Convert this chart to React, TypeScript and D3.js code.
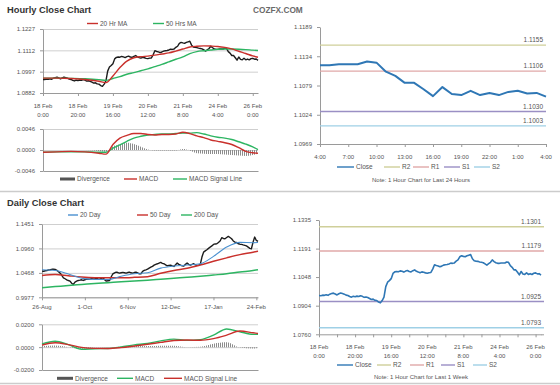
import React, { useRef, useEffect } from "react";
import * as d3 from "d3";

const FONT = "'Liberation Sans', Arial, sans-serif";
const GRID = "#cfcfcf";
const AXIS = "#9a9a9a";
const LABEL = "#555";
const RED = "#c9302c";
const GREEN = "#2db562";
const BLUE = "#4a90d0";
const CLOSE = "#2f77b5";
const LEVEL_COLORS = ["#cfcf9a", "#e0a8a8", "#9a8fc4", "#9fd0e6"];
const LEVEL_NAMES = ["R2", "R1", "S1", "S2"];

// ---- hourly closes, last 24h (24 Feb 4:00 -> 25 Feb 4:00)
const last24Close = [
    1.1117, 1.1117, 1.1119, 1.1119, 1.1119, 1.1124, 1.1122, 1.1105, 1.1097, 1.1084,
    1.1084, 1.1072, 1.1059, 1.1076, 1.1063, 1.1061, 1.1069, 1.1061, 1.1065, 1.1061,
    1.1067, 1.1069, 1.1064, 1.1065, 1.1058,
];
const last24Labels = ["4:00", "7:00", "10:00", "13:00", "16:00", "19:00", "22:00", "1:00", "4:00"];
const last24LabelIdx = [0, 3, 6, 9, 12, 15, 18, 21, 24];
const last24Ticks = [1.0969, 1.1024, 1.1079, 1.1134, 1.1189];
const last24Levels = [1.1155, 1.1106, 1.103, 1.1003];

// ---- hourly closes, last week
const hourlyClose = [
    1.0955, 1.0954, 1.0957, 1.0956, 1.0959, 1.0956, 1.0962, 1.0965, 1.0967, 1.0963,
    1.0958, 1.0964, 1.0968, 1.0965, 1.0962, 1.0957, 1.0955, 1.095, 1.0947, 1.0951,
    1.0949, 1.0952, 1.095, 1.0954, 1.0951, 1.0946, 1.0948, 1.0945, 1.094, 1.0935,
    1.0937, 1.0931, 1.093, 1.0922, 1.0918, 1.093, 1.0947, 1.1, 1.1022, 1.103,
    1.104, 1.1066, 1.1074, 1.1076, 1.1075, 1.1079, 1.1077, 1.1073, 1.1078, 1.1081,
    1.1076, 1.1074, 1.108, 1.1084, 1.1077, 1.1073, 1.107, 1.1074, 1.1072, 1.1069,
    1.1067, 1.107, 1.1071, 1.1088, 1.111, 1.1106, 1.1104, 1.11, 1.1103, 1.1108,
    1.111, 1.1111, 1.1114, 1.1118, 1.1117, 1.1119, 1.1128, 1.1134, 1.115, 1.1155,
    1.1152, 1.115, 1.1155, 1.1158, 1.1161, 1.114, 1.113, 1.1128, 1.1127, 1.1124,
    1.1122, 1.112, 1.1114, 1.1108, 1.1115, 1.1122, 1.1134, 1.1126, 1.112,
    ...last24Close,
];
const hourlyLabelIdx = [0, 20, 40, 60, 80, 100, 120];
const hourlyDates = ["18 Feb", "18 Feb", "19 Feb", "20 Feb", "21 Feb", "24 Feb", "26 Feb"];
const hourlyTimes = ["0:00", "20:00", "16:00", "12:00", "8:00", "4:00", "0:00"];
const hourlyPriceTicks = [1.0882, 1.0997, 1.1112, 1.1227];
const hourlyMacdTicks = [-0.0046, 0, 0.0046];
const weekTicks = [1.076, 1.0904, 1.1048, 1.1191, 1.1335];
const weekLevels = [1.1301, 1.1179, 1.0925, 1.0793];
const weekTickIdx = [0, 10, 20, 30, 40, 50, 60, 70, 80, 90, 100, 110, 120];

// hourly indicators, read at these hour indexes
const hourlyMaIdx = [0, 8, 16, 24, 32, 36, 40, 44, 48, 52, 56, 60, 64, 68, 72, 76, 80, 84, 88, 92, 96, 100, 104, 108, 112, 116, 120, 123];
const ma20Hr = [
    1.0962, 1.0962, 1.096, 1.0955, 1.0945, 1.0938, 1.0974, 1.1019, 1.1054, 1.1072,
    1.1078, 1.1081, 1.1086, 1.1092, 1.1098, 1.1108, 1.1119, 1.113, 1.1134, 1.1136,
    1.1135, 1.1133, 1.1128, 1.112, 1.1107, 1.1095, 1.1082, 1.1075,
];
const ma50Hr = [
    1.0962, 1.0962, 1.0961, 1.0959, 1.0954, 1.095, 1.096, 1.097, 1.0983, 1.0992,
    1.1002, 1.1012, 1.1024, 1.1036, 1.105, 1.1064, 1.1077, 1.1094, 1.1105, 1.111,
    1.1114, 1.1118, 1.1119, 1.1119, 1.1118, 1.1116, 1.1113, 1.1111,
];
const hourlyMacd = [
    -0.0005, -0.0004, -0.0003, -0.0004, -0.0007, -0.0009, 0.0012, 0.0026, 0.0032, 0.0036,
    0.0036, 0.0034, 0.0033, 0.0034, 0.0034, 0.0035, 0.0039, 0.0036, 0.0031, 0.0027,
    0.0022, 0.0019, 0.0016, 0.0012, 0.0005, -0.0003, -0.0006, -0.0007,
];
const hourlySignal = [
    -0.0005, -0.0004, -0.0004, -0.0004, -0.0005, -0.0005, 0.0004, 0.0011, 0.0019, 0.0026,
    0.003, 0.0033, 0.0034, 0.0035, 0.0035, 0.0036, 0.0037, 0.0037, 0.0038, 0.0035,
    0.0031, 0.0028, 0.0026, 0.0023, 0.0018, 0.0013, 0.0007, 0.0001,
];
const hourlyDivergence = [
    0, 0, 0, 0, -0.0002, -0.0004, 0.0008, 0.0012, 0.0016, 0.0013,
    0.0007, 0.0001, -0.0001, -0.0001, -0.0001, -0.0001, 0.0002, -0.0001, -0.0007, -0.0008,
    -0.0009, -0.0009, -0.001, -0.0011, -0.0012, -0.0013, -0.0011, -0.0008,
];

// ---- daily closes
const dailyClose = [
    1.0504, 1.05, 1.051, 1.0517, 1.0525, 1.0531, 1.054, 1.0544, 1.0538, 1.052,
    1.049, 1.0463, 1.042, 1.0369, 1.035, 1.0329, 1.0315, 1.0302, 1.026, 1.0235,
    1.0282, 1.03, 1.0316, 1.0322, 1.0329, 1.0316, 1.033, 1.0343, 1.034, 1.0343,
    1.035, 1.0369, 1.0362, 1.0356, 1.0348, 1.0343, 1.0356, 1.0369, 1.033, 1.0302,
    1.031, 1.0316, 1.039, 1.045, 1.047, 1.0484, 1.0475, 1.0463, 1.047, 1.0477,
    1.047, 1.0463, 1.0475, 1.0484, 1.047, 1.0463, 1.0475, 1.0484, 1.047, 1.045,
    1.045, 1.05, 1.0517, 1.053, 1.0544, 1.0565, 1.0584, 1.06, 1.0625, 1.064,
    1.0651, 1.0665, 1.0678, 1.066, 1.0651, 1.063, 1.0611, 1.0618, 1.0625, 1.061,
    1.0598, 1.063, 1.0665, 1.064, 1.0625, 1.061, 1.0604, 1.064, 1.0665, 1.064,
    1.0625, 1.064, 1.0651, 1.063, 1.0618, 1.0625, 1.0638, 1.0786, 1.0886, 1.091,
    1.0933, 1.096, 1.0987, 1.101, 1.1041, 1.105, 1.1054, 1.108, 1.1108, 1.1175,
    1.116, 1.1155, 1.118, 1.1202, 1.118, 1.1155, 1.111, 1.1087, 1.108, 1.1054,
    1.1045, 1.1041, 1.103, 1.102, 1.101, 1.0987, 1.096, 1.0953, 1.1087, 1.1188,
    1.112, 1.11,
];
const dailyLabelIdx = [0, 26, 52, 78, 104, 130];
const dailyLabels = ["26-Aug", "1-Oct", "6-Nov", "12-Dec", "17-Jan", "24-Feb"];
const dailyPriceTicks = [0.9977, 1.0468, 1.096, 1.1451];
const dailyMacdTicks = [-0.02, 0, 0.02];

const dailyMaIdx = [0, 8, 16, 24, 32, 40, 48, 56, 64, 72, 80, 88, 96, 104, 112, 120, 128, 131];
const ma20Day = [1.0531, 1.0515, 1.0445, 1.036, 1.0336, 1.0335, 1.04, 1.045, 1.047, 1.0564, 1.0605, 1.0625, 1.0651, 1.08, 1.0987, 1.1081, 1.1075, 1.1078];
const ma50Day = [1.0416, 1.0437, 1.041, 1.0385, 1.0372, 1.037, 1.037, 1.0378, 1.0392, 1.046, 1.0517, 1.056, 1.0625, 1.07, 1.077, 1.0835, 1.0885, 1.0906];
const ma200Day = [1.017, 1.0192, 1.0215, 1.0235, 1.0255, 1.0272, 1.029, 1.0305, 1.032, 1.034, 1.036, 1.038, 1.04, 1.0425, 1.045, 1.0485, 1.0515, 1.053];
const dailyMacd = [0.0028, 0.0052, 0.0022, -0.0018, -0.0014, -0.0012, 0.0002, 0.002, 0.0032, 0.0055, 0.007, 0.0059, 0.0065, 0.0105, 0.0159, 0.0135, 0.0112, 0.0112];
const dailySignal = [0.0018, 0.0038, 0.0022, -0.0002, -0.0011, -0.0012, -0.0004, 0.001, 0.0025, 0.0042, 0.0058, 0.0062, 0.006, 0.0075, 0.0105, 0.0141, 0.0126, 0.012];
const dailyDivergence = [0.001, 0.0014, 0, -0.0014, -0.0004, 0, 0.0004, 0.001, 0.001, 0.0013, 0.0012, 0, 0.0004, 0.003, 0.0042, -0.0004, -0.0012, -0.0008];

type Scale = d3.ScaleLinear<number, number>;

const App: React.FC = () => {
    const ref = useRef<SVGSVGElement | null>(null);

    useEffect(() => {
        const svg = d3.select(ref.current);
        svg.selectAll("*").remove();
        svg.attr("font-family", FONT);

        svg.append("defs")
            .append("pattern")
            .attr("id", "hatch")
            .attr("patternUnits", "userSpaceOnUse")
            .attr("width", 2)
            .attr("height", 2)
            .append("rect")
            .attr("width", 1)
            .attr("height", 2)
            .attr("fill", "#8c8c8c");

        const f4 = (d: number) => d.toFixed(4);

        const styleAxis = (g: any) => {
            g.attr("font-family", FONT).attr("font-size", 6);
            g.select(".domain").attr("stroke", AXIS);
            g.selectAll(".tick line").attr("stroke", AXIS);
            g.selectAll(".tick text").attr("fill", LABEL);
        };

        const drawYAxis = (x0: number, x1: number, y: Scale, ticks: number[], grid: number[]) => {
            if (grid.length) {
                svg.append("g")
                    .attr("transform", `translate(${x0},0)`)
                    .call(d3.axisLeft(y).tickValues(grid).tickSize(-(x1 - x0)).tickFormat(() => ""))
                    .call((g) => g.select(".domain").remove())
                    .selectAll(".tick line")
                    .attr("stroke", GRID);
            }
            const g = svg.append("g")
                .attr("transform", `translate(${x0},0)`)
                .call(d3.axisLeft(y).tickValues(ticks).tickSize(3).tickSizeOuter(0).tickPadding(5).tickFormat((d) => f4(d as number)));
            styleAxis(g);
        };

        const drawXAxis = (yPos: number, x: Scale, ticks: number[]) => {
            const g = svg.append("g")
                .attr("transform", `translate(0,${yPos})`)
                .call(d3.axisBottom(x).tickValues(ticks).tickSize(3).tickSizeOuter(0).tickFormat(() => ""));
            styleAxis(g);
        };

        const xLabels = (x: Scale, idx: number[], rows: string[][], baseline: number) => {
            idx.forEach((d, i) => {
                rows.forEach((row, k) => {
                    svg.append("text")
                        .attr("x", x(d))
                        .attr("y", baseline + k * 8.6)
                        .attr("text-anchor", "middle")
                        .attr("font-size", 6)
                        .attr("fill", LABEL)
                        .text(row[i]);
                });
            });
        };

        const drawLine = (data: number[], xs: (i: number) => number, y: Scale, color: string, width: number, smooth = false) => {
            const line = d3.line<number>()
                .x((_, i) => xs(i))
                .y((d) => y(d))
                .curve(smooth ? d3.curveMonotoneX : d3.curveLinear);
            svg.append("path")
                .datum(data)
                .attr("fill", "none")
                .attr("stroke", color)
                .attr("stroke-width", width)
                .attr("stroke-linejoin", "round")
                .attr("d", line);
        };

        const drawHist = (data: number[], xs: (i: number) => number, y: Scale) => {
            const area = d3.area<number>()
                .x((_, i) => xs(i))
                .y0(y(0))
                .y1((d) => y(d))
                .curve(d3.curveMonotoneX);
            svg.append("path").datum(data).attr("fill", "url(#hatch)").attr("d", area);
        };

        const legend = (items: { x: number; len: number; color: string; label: string; bar?: boolean }[], yc: number) => {
            items.forEach((it) => {
                if (it.bar) {
                    svg.append("rect").attr("x", it.x).attr("y", yc - 1.5).attr("width", it.len).attr("height", 3).attr("fill", "#555");
                } else {
                    svg.append("line")
                        .attr("x1", it.x).attr("x2", it.x + it.len)
                        .attr("y1", yc).attr("y2", yc)
                        .attr("stroke", it.color).attr("stroke-width", 1.4);
                }
                svg.append("text")
                    .attr("x", it.x + it.len + 2)
                    .attr("y", yc + 2.2)
                    .attr("font-size", 6.5)
                    .attr("fill", LABEL)
                    .text(it.label);
            });
        };

        const title = (text: string, y: number) =>
            svg.append("text").attr("x", 7).attr("y", y).attr("font-size", 9.3).attr("font-weight", "bold").attr("fill", "#333").text(text);

        const levels = (vals: number[], x0: number, x1: number, y: Scale) => {
            vals.forEach((v, i) => {
                svg.append("line")
                    .attr("x1", x0).attr("x2", x1)
                    .attr("y1", y(v)).attr("y2", y(v))
                    .attr("stroke", LEVEL_COLORS[i]).attr("stroke-width", 1.4);
                svg.append("text")
                    .attr("x", x1 - 3)
                    .attr("y", y(v) - 3)
                    .attr("text-anchor", "end")
                    .attr("font-size", 6.5)
                    .attr("fill", LABEL)
                    .text(f4(v));
            });
        };

        const note = (text: string, y: number) =>
            svg.append("text").attr("x", 421).attr("y", y).attr("text-anchor", "middle").attr("font-size", 6).attr("fill", LABEL).text(text);

        // separators
        [191.5, 383.5].forEach((y) =>
            svg.append("line").attr("x1", 0).attr("x2", 560).attr("y1", y).attr("y2", y).attr("stroke", "#cccccc").attr("stroke-width", 1.5)
        );

        // ---------- Hourly close chart ----------
        title("Hourly Close Chart", 13.3);
        svg.append("text").attr("x", 253).attr("y", 13).attr("font-size", 8.3).attr("font-weight", "bold").attr("fill", "#6a6a6a").text("COZFX.COM");

        const hx = d3.scaleLinear().domain([0, hourlyClose.length - 1]).range([43, 258]);
        const hy = d3.scaleLinear().domain([1.0882, 1.1227]).range([93, 29]);
        drawYAxis(43, 258, hy, hourlyPriceTicks, hourlyPriceTicks);
        drawXAxis(93, hx, hourlyLabelIdx);
        xLabels(hx, hourlyLabelIdx, [hourlyDates, hourlyTimes], 108, );
        drawLine(hourlyClose, (i) => hx(i), hy, "#1c1c1c", 1.4);
        drawLine(ma50Hr, (i) => hx(hourlyMaIdx[i]), hy, GREEN, 1.4, true);
        drawLine(ma20Hr, (i) => hx(hourlyMaIdx[i]), hy, RED, 1.4, true);
        legend([
            { x: 87, len: 11, color: RED, label: "20 Hr MA" },
            { x: 153, len: 11, color: GREEN, label: "50 Hrs MA" },
        ], 23.5);

        const hm = d3.scaleLinear().domain([-0.0046, 0.0046]).range([171, 129]);
        drawYAxis(43, 258, hm, hourlyMacdTicks, [0, 0.0046]);
        drawXAxis(171, hx, []);
        drawHist(hourlyDivergence, (i) => hx(hourlyMaIdx[i]), hm);
        drawLine(hourlySignal, (i) => hx(hourlyMaIdx[i]), hm, GREEN, 1.4, true);
        drawLine(hourlyMacd, (i) => hx(hourlyMaIdx[i]), hm, RED, 1.4, true);
        legend([
            { x: 60, len: 15, color: "#555", label: "Divergence", bar: true },
            { x: 124, len: 13, color: RED, label: "MACD" },
            { x: 173, len: 14, color: GREEN, label: "MACD Signal Line" },
        ], 179);

        // ---------- Last 24 hours ----------
        const tx = d3.scaleLinear().domain([0, last24Close.length - 1]).range([320, 546]);
        const ty = d3.scaleLinear().domain([1.0969, 1.1189]).range([144, 27]);
        drawYAxis(320, 546, ty, last24Ticks, []);
        drawXAxis(144, tx, last24LabelIdx);
        xLabels(tx, last24LabelIdx, [last24Labels], 159.3);
        levels(last24Levels, 320, 546, ty);
        drawLine(last24Close, (i) => tx(i), ty, CLOSE, 2);
        legend([
            { x: 337, len: 17, color: CLOSE, label: "Close" },
            { x: 384, len: 16, color: LEVEL_COLORS[0], label: LEVEL_NAMES[0] },
            { x: 413, len: 16, color: LEVEL_COLORS[1], label: LEVEL_NAMES[1] },
            { x: 444, len: 16, color: LEVEL_COLORS[2], label: LEVEL_NAMES[2] },
            { x: 474, len: 16, color: LEVEL_COLORS[3], label: LEVEL_NAMES[3] },
        ], 167);
        note("Note: 1 Hour Chart for Last 24 Hours", 181.5);

        // ---------- Daily close chart ----------
        title("Daily Close Chart", 205.5);
        const dx = d3.scaleLinear().domain([0, dailyClose.length - 1]).range([42, 258]);
        const dy = d3.scaleLinear().domain([0.9977, 1.1451]).range([297.3, 224]);
        drawYAxis(42, 258, dy, dailyPriceTicks, dailyPriceTicks);
        drawXAxis(297.3, dx, dailyLabelIdx);
        xLabels(dx, dailyLabelIdx, [dailyLabels], 309);
        drawLine(dailyClose, (i) => dx(i), dy, "#1c1c1c", 1.4);
        drawLine(ma200Day, (i) => dx(dailyMaIdx[i]), dy, GREEN, 1.5, true);
        drawLine(ma50Day, (i) => dx(dailyMaIdx[i]), dy, RED, 1.5, true);
        drawLine(ma20Day, (i) => dx(dailyMaIdx[i]), dy, BLUE, 1.1, true);
        legend([
            { x: 68, len: 10, color: BLUE, label: "20 Day" },
            { x: 137, len: 11, color: RED, label: "50 Day" },
            { x: 181, len: 11, color: GREEN, label: "200 Day" },
        ], 215);

        const dm = d3.scaleLinear().domain([-0.02, 0.02]).range([370, 324.3]);
        drawYAxis(42, 258, dm, dailyMacdTicks, [0, 0.02]);
        drawXAxis(370, dx, []);
        drawHist(dailyDivergence, (i) => dx(dailyMaIdx[i]), dm);
        drawLine(dailyMacd, (i) => dx(dailyMaIdx[i]), dm, GREEN, 1.4, true);
        drawLine(dailySignal, (i) => dx(dailyMaIdx[i]), dm, RED, 1.4, true);
        legend([
            { x: 57, len: 16, color: "#555", label: "Divergence", bar: true },
            { x: 117, len: 16, color: GREEN, label: "MACD" },
            { x: 164, len: 18, color: RED, label: "MACD Signal Line" },
        ], 378.3);

        // ---------- Last week, hourly ----------
        const wx = d3.scaleLinear().domain([0, hourlyClose.length - 1]).range([319, 541]);
        const wy = d3.scaleLinear().domain([1.076, 1.1335]).range([334.3, 220]);
        drawYAxis(319, 544, wy, weekTicks, []);
        drawXAxis(334.3, d3.scaleLinear().domain([0, hourlyClose.length - 1]).range([319, 541]), weekTickIdx);
        svg.append("line").attr("x1", 541).attr("x2", 544).attr("y1", 334.8).attr("y2", 334.8).attr("stroke", AXIS);
        xLabels(wx, hourlyLabelIdx, [hourlyDates, hourlyTimes], 349.3);
        levels(weekLevels, 319, 544, wy);
        drawLine(hourlyClose, (i) => wx(i), wy, CLOSE, 1.6);
        legend([
            { x: 337, len: 16, color: CLOSE, label: "Close" },
            { x: 377, len: 14, color: LEVEL_COLORS[0], label: LEVEL_NAMES[0] },
            { x: 410, len: 14, color: LEVEL_COLORS[1], label: LEVEL_NAMES[1] },
            { x: 441, len: 14, color: LEVEL_COLORS[2], label: LEVEL_NAMES[2] },
            { x: 473, len: 14, color: LEVEL_COLORS[3], label: LEVEL_NAMES[3] },
        ], 365);
        note("Note: 1 Hour Chart for Last 1 Week", 378.8);

        return () => {
            d3.select(ref.current).selectAll("*").remove();
        };
    }, []);

    return (
        <svg
            ref={ref}
            width={560}
            height={385}
            style={{ position: "absolute", left: 0, top: 0, background: "#fff" }}
        ></svg>
    );
};

export default App;
